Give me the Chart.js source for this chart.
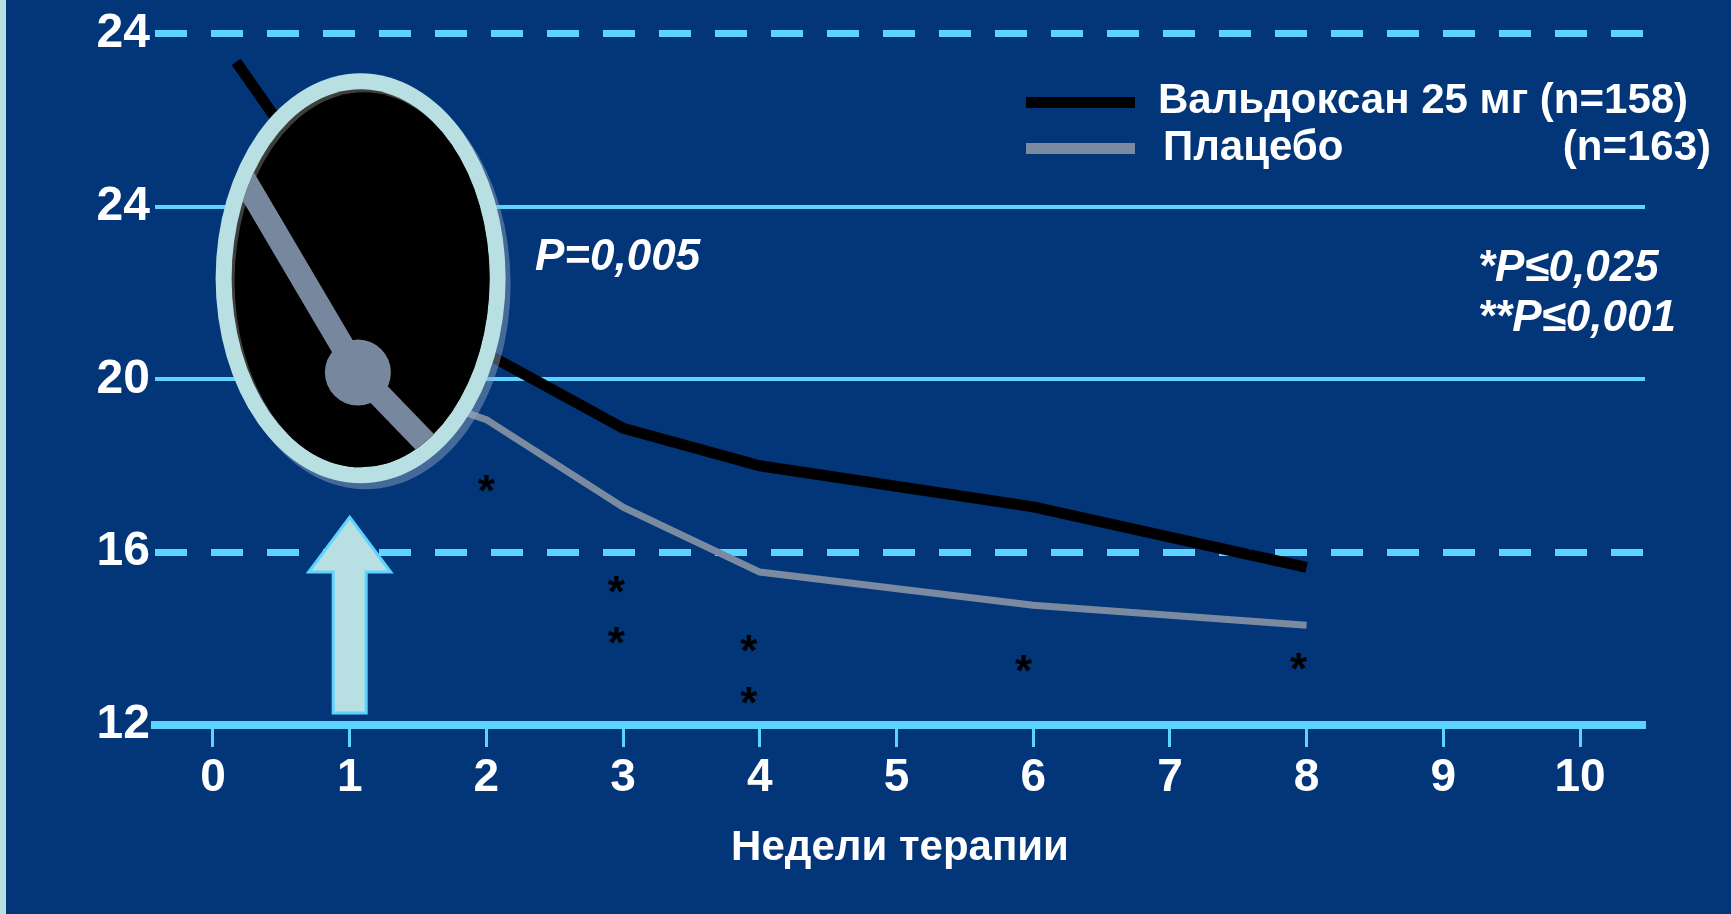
<!DOCTYPE html>
<html>
<head>
<meta charset="utf-8">
<script src="https://cdn.jsdelivr.net/npm/chart.js@4/dist/chart.umd.min.js"></script>
<style>
  html, body { margin: 0; padding: 0; background: #023679; }
  canvas { display: block; }
</style>
</head>
<body>
<canvas id="chart" width="1731" height="914"></canvas>
<script>
"use strict";

// data
const weeksValdoxan = [0.17, 1, 2, 3, 4, 6, 8];
const scoreValdoxan = [27.35, 23.6, 20.6, 18.87, 18.0, 17.05, 15.65];
const weeksPlacebo = [0.2, 1, 2, 3, 4, 6, 8];
const scorePlacebo = [24.7, 20.15, 19.07, 17.04, 15.54, 14.77, 14.31];

// significance marks (*) under the curves
const starWeeks = [2, 2.95, 2.95, 3.92, 3.92, 5.93, 7.94];
const starValues = [17.53, 15.19, 14.01, 13.83, 12.62, 13.36, 13.41];

const xTicks = [0, 1, 2, 3, 4, 5, 6, 7, 8, 9, 10];
const yTicks = [12, 16, 20, 24, 28];
const yTickLabels = ["12", "16", "20", "24", "24"];
const dashedLevels = [16, 28];
const solidLevels = [20, 24];

const seriesNames = ["Вальдоксан 25 мг (n=158)", "Плацебо"];
const placeboCount = "(n=163)";
const xTitle = "Недели терапии";

const FONT = '"Liberation Sans", Arial, sans-serif';
const BG = "#023679";
const CYAN = "#5cd4ff";
const PALE = "#b8dfe2";
const GREY = "#7a8aa0";

function toPoints(xs, ys) {
    return xs.map((x, i) => ({ x: x, y: ys[i] }));
}

function ellipse(ctx, cx, cy, rx, ry) {
    ctx.beginPath();
    ctx.ellipse(cx, cy, rx, ry, 0, 0, Math.PI * 2);
}

const background = {
    id: "background",
    beforeDraw(chart) {
        const ctx = chart.ctx;
        ctx.save();
        ctx.fillStyle = BG;
        ctx.fillRect(0, 0, chart.width, chart.height);
        ctx.fillStyle = PALE;
        ctx.fillRect(0, 0, 6, chart.height);
        ctx.restore();
    }
};

const decorations = {
    id: "decorations",
    afterDatasetsDraw(chart) {
        const ctx = chart.ctx;
        const xs = chart.scales.x;
        const ys = chart.scales.y;

        // magnifier lens over week 1
        const cx = xs.getPixelForValue(1.08);
        const cy = ys.getPixelForValue(22.34);
        const rx = 145, ry = 205, ring = 16;
        ctx.save();
        ctx.fillStyle = "rgba(150,170,195,0.45)";
        ellipse(ctx, cx + 5, cy + 6, rx, ry);
        ctx.fill();
        ctx.fillStyle = PALE;
        ellipse(ctx, cx, cy, rx, ry);
        ctx.fill();
        ctx.fillStyle = "#3d3d3d";
        ellipse(ctx, cx, cy, rx - ring, ry - ring);
        ctx.fill();
        ctx.clip();
        ctx.fillStyle = "#000";
        ellipse(ctx, cx + 3, cy + 3, rx - ring, ry - ring);
        ctx.fill();

        // magnified placebo line
        const hub = { x: xs.getPixelForValue(1.06), y: ys.getPixelForValue(20.16) };
        const up = { x: xs.getPixelForValue(0.22), y: ys.getPixelForValue(24.67) };
        const down = { x: xs.getPixelForValue(1.56), y: ys.getPixelForValue(18.52) };
        const ext = (p) => ({ x: hub.x + (p.x - hub.x) * 1.6, y: hub.y + (p.y - hub.y) * 1.6 });
        const a = ext(up), b = ext(down);
        ctx.strokeStyle = "#77889e";
        ctx.lineWidth = 24;
        ctx.lineJoin = "round";
        ctx.beginPath();
        ctx.moveTo(a.x, a.y);
        ctx.lineTo(hub.x, hub.y);
        ctx.lineTo(b.x, b.y);
        ctx.stroke();
        ctx.fillStyle = "#77889e";
        ctx.beginPath();
        ctx.arc(hub.x, hub.y, 33, 0, Math.PI * 2);
        ctx.fill();
        ctx.restore();

        // arrow pointing at week 1
        const ax = xs.getPixelForValue(1);
        const tip = ys.getPixelForValue(16.81);
        const neck = ys.getPixelForValue(15.54);
        const foot = ys.getPixelForValue(12.28);
        ctx.save();
        ctx.beginPath();
        ctx.moveTo(ax, tip);
        ctx.lineTo(ax + 41, neck);
        ctx.lineTo(ax + 16.5, neck);
        ctx.lineTo(ax + 16.5, foot);
        ctx.lineTo(ax - 16.5, foot);
        ctx.lineTo(ax - 16.5, neck);
        ctx.lineTo(ax - 41, neck);
        ctx.closePath();
        ctx.fillStyle = PALE;
        ctx.fill();
        ctx.strokeStyle = CYAN;
        ctx.lineWidth = 3;
        ctx.lineJoin = "miter";
        ctx.stroke();
        ctx.restore();

        // asterisks
        ctx.save();
        ctx.fillStyle = "#000";
        ctx.font = "bold 44px " + FONT;
        ctx.textAlign = "center";
        ctx.textBaseline = "alphabetic";
        starWeeks.forEach((w, i) => {
            ctx.fillText("*", xs.getPixelForValue(w), ys.getPixelForValue(starValues[i]) + 20);
        });
        ctx.restore();

        // legend
        const ds = chart.data.datasets;
        ctx.save();
        ctx.fillStyle = ds[0].borderColor;
        ctx.fillRect(1026, 97, 109, 11);
        ctx.fillStyle = ds[1].borderColor;
        ctx.fillRect(1026, 143, 109, 11);
        ctx.fillStyle = "#fff";
        ctx.font = "bold 42px " + FONT;
        ctx.textBaseline = "middle";
        ctx.textAlign = "left";
        ctx.fillText(seriesNames[0], 1158, 101);
        ctx.fillText(seriesNames[1], 1163, 148);
        ctx.textAlign = "right";
        ctx.fillText(placeboCount, 1711, 148);

        // p-values
        ctx.font = "italic bold 44px " + FONT;
        ctx.textAlign = "left";
        ctx.fillText("P=0,005", 535, 258);
        ctx.fillText("*P≤0,025", 1478, 269);
        ctx.fillText("**P≤0,001", 1478, 319);
        ctx.restore();
    }
};

const ctx = document.getElementById("chart").getContext("2d");
const chart = new Chart(ctx, {
    type: "line",
    data: {
        datasets: [
            {
                label: seriesNames[0],
                data: toPoints(weeksValdoxan, scoreValdoxan),
                borderColor: "#000000",
                borderWidth: 11,
                pointRadius: 0,
                tension: 0
            },
            {
                label: seriesNames[1],
                data: toPoints(weeksPlacebo, scorePlacebo),
                borderColor: GREY,
                borderWidth: 7,
                pointRadius: 0,
                tension: 0
            }
        ]
    },
    options: {
        responsive: false,
        animation: false,
        devicePixelRatio: 1,
        layout: { padding: { top: 33, right: 86, left: 0, bottom: 0 } },
        plugins: {
            legend: { display: false },
            tooltip: { enabled: false }
        },
        scales: {
            x: {
                type: "linear",
                min: -0.424,
                max: 10.475,
                afterBuildTicks: (scale) => { scale.ticks = xTicks.map(v => ({ value: v })); },
                afterFit: (scale) => { scale.height = 189; },
                grid: {
                    drawOnChartArea: false,
                    drawTicks: true,
                    tickLength: 22,
                    tickColor: CYAN,
                    tickWidth: 3
                },
                border: { display: true, color: CYAN, width: 8 },
                ticks: {
                    color: "#fff",
                    padding: 4,
                    maxRotation: 0,
                    font: { family: FONT, size: 46, weight: "bold" }
                },
                title: {
                    display: true,
                    text: xTitle,
                    color: "#fff",
                    padding: { top: 0, bottom: 40 },
                    font: { family: FONT, size: 42, weight: "bold" }
                }
            },
            y: {
                type: "linear",
                min: 12,
                max: 28,
                afterBuildTicks: (scale) => { scale.ticks = yTicks.map(v => ({ value: v })); },
                afterFit: (scale) => { scale.width = 155; },
                grid: {
                    drawTicks: false,
                    color: (c) => solidLevels.includes(c.tick && c.tick.value) ? CYAN : "rgba(0,0,0,0)",
                    lineWidth: 4
                },
                border: { display: false },
                ticks: {
                    color: "#fff",
                    padding: 5,
                    font: { family: FONT, size: 48, weight: "bold" },
                    callback: (value) => yTickLabels[yTicks.indexOf(value)]
                }
            },
            yDash: {
                type: "linear",
                position: "left",
                min: 12,
                max: 28,
                afterBuildTicks: (scale) => { scale.ticks = yTicks.map(v => ({ value: v })); },
                afterFit: (scale) => { scale.width = 0; },
                grid: {
                    drawTicks: false,
                    color: (c) => dashedLevels.includes(c.tick && c.tick.value) ? CYAN : "rgba(0,0,0,0)",
                    lineWidth: 7
                },
                border: { display: false, dash: [32, 24] },
                ticks: { display: false }
            }
        }
    },
    plugins: [background, decorations]
});
</script>
</body>
</html>
